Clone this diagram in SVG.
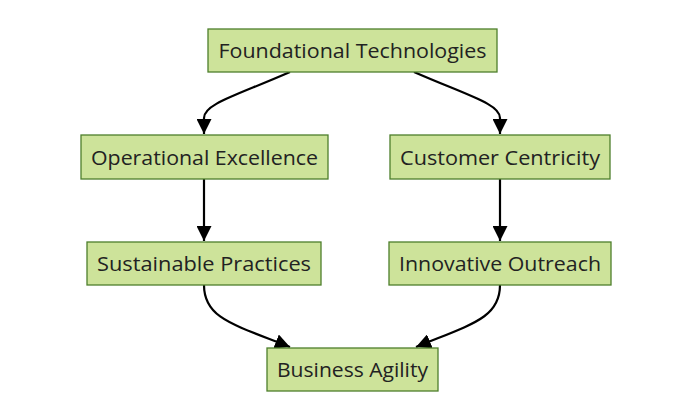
<svg xmlns="http://www.w3.org/2000/svg" width="687" height="412" viewBox="0 0 687 412">
<defs>
<style>
.node rect{fill:#cde39a;stroke:#4d7f2c;stroke-width:1.3}
.node text{font-family:"Open Sans","Liberation Sans",sans-serif;font-size:20px;fill:#222;text-anchor:middle;dominant-baseline:central}
.edge{fill:none;stroke:#000;stroke-width:2.2}
</style>
<marker id="ah" viewBox="0 0 12 12" refX="12" refY="6" markerWidth="15" markerHeight="15" markerUnits="userSpaceOnUse" orient="auto">
<path d="M0,0 L12,6 L0,12 z" fill="#000"/>
</marker>
</defs>
<rect width="687" height="412" fill="#fff"/>
<g id="connectors">
<path class="edge" d="M290,72 C235,96 204,104 204,118 L204,134" marker-end="url(#ah)"/>
<path class="edge" d="M414,72 C469,96 500,104 500,118 L500,134" marker-end="url(#ah)"/>
<path class="edge" d="M204,179 L204,241" marker-end="url(#ah)"/>
<path class="edge" d="M500,179 L500,241" marker-end="url(#ah)"/>
<path class="edge" d="M204,285 C204,318 232,324 290,347" marker-end="url(#ah)"/>
<path class="edge" d="M500,285 C500,318 472,324 416,347" marker-end="url(#ah)"/>
</g>
<g id="n-foundational" class="node"><rect x="208" y="29" width="289" height="43"/><text x="352.5" y="50.5" textLength="268" lengthAdjust="spacingAndGlyphs">Foundational Technologies</text></g>
<g id="n-operational" class="node"><rect x="81" y="135" width="247" height="44"/><text x="204.5" y="157" textLength="227" lengthAdjust="spacingAndGlyphs">Operational Excellence</text></g>
<g id="n-customer" class="node"><rect x="390" y="135" width="220" height="44"/><text x="500" y="157" textLength="200" lengthAdjust="spacingAndGlyphs">Customer Centricity</text></g>
<g id="n-sustainable" class="node"><rect x="87" y="242" width="234" height="43"/><text x="204" y="263.5" textLength="214" lengthAdjust="spacingAndGlyphs">Sustainable Practices</text></g>
<g id="n-innovative" class="node"><rect x="389" y="242" width="222" height="43"/><text x="500" y="263.5" textLength="202" lengthAdjust="spacingAndGlyphs">Innovative Outreach</text></g>
<g id="n-business" class="node"><rect x="267" y="348" width="171" height="43"/><text x="352.5" y="369.5" textLength="151" lengthAdjust="spacingAndGlyphs">Business Agility</text></g>
</svg>
